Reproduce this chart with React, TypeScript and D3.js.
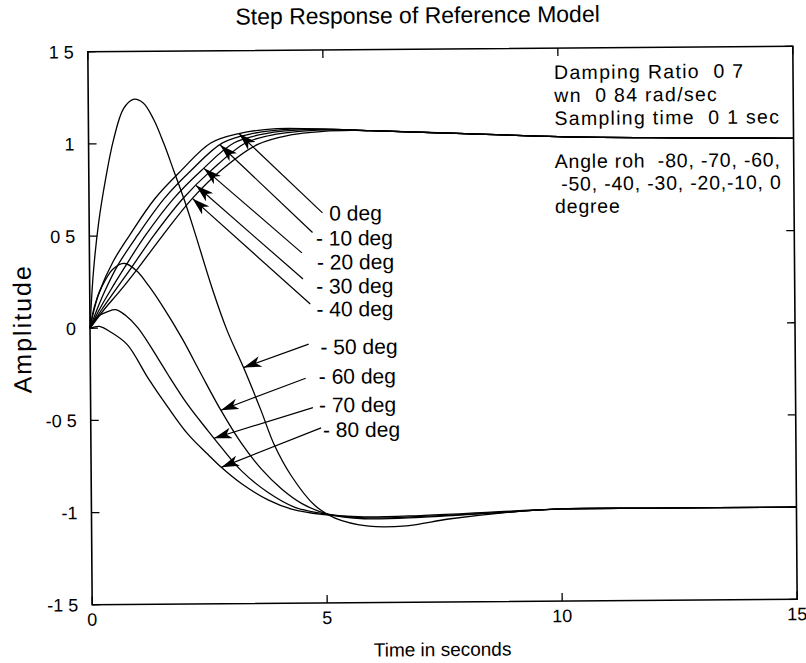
import React from "react";
import * as d3 from "d3";

// step responses, [time (s), amplitude]
const deg0 = [[0, 0], [0.1, 0.11], [0.21, 0.2], [0.5, 0.36], [0.85, 0.5], [1.4, 0.7], [1.96, 0.85], [2.6, 1.0], [3.2, 1.05], [4, 1.075], [5, 1.07], [6, 1.06], [8, 1.04], [10, 1.02], [12, 1.01], [15, 1.0]];
const deg10 = [[0, 0], [0.15, 0.1], [0.32, 0.2], [0.6, 0.34], [1.02, 0.5], [1.6, 0.7], [2.17, 0.85], [2.85, 1.0], [3.5, 1.05], [4.3, 1.072], [5, 1.07], [6, 1.06], [8, 1.04], [10, 1.02], [12, 1.01], [15, 1.0]];
const deg20 = [[0, 0], [0.2, 0.1], [0.43, 0.2], [0.75, 0.33], [1.19, 0.5], [1.8, 0.7], [2.39, 0.85], [3.1, 1.0], [3.8, 1.05], [4.6, 1.068], [5.2, 1.068], [6, 1.06], [8, 1.04], [10, 1.02], [12, 1.01], [15, 1.0]];
const deg30 = [[0, 0], [0.25, 0.1], [0.53, 0.2], [0.9, 0.33], [1.37, 0.5], [2.0, 0.7], [2.6, 0.85], [3.35, 1.0], [4.0, 1.045], [4.8, 1.064], [5.4, 1.065], [6, 1.06], [8, 1.04], [10, 1.02], [12, 1.01], [15, 1.0]];
const deg40 = [[0, 0], [0.3, 0.1], [0.64, 0.2], [1.05, 0.33], [1.56, 0.5], [2.2, 0.7], [2.81, 0.85], [3.6, 0.99], [4.3, 1.04], [5.0, 1.058], [5.6, 1.062], [6, 1.06], [8, 1.04], [10, 1.02], [12, 1.01], [15, 1.0]];
const deg50 = [[0, 0], [0.08, 0.3], [0.2, 0.57], [0.35, 0.8], [0.53, 1.02], [0.75, 1.19], [0.96, 1.24], [1.17, 1.22], [1.39, 1.13], [1.6, 1.0], [1.81, 0.85], [2.03, 0.69], [2.24, 0.52], [2.62, 0.2], [2.92, -0.02], [3.26, -0.22], [3.62, -0.45], [3.9, -0.64], [4.26, -0.81], [4.75, -0.97], [5.18, -1.04], [5.9, -1.085], [6.7, -1.085], [7.6, -1.05], [8.7, -1.02], [10, -1.0], [12, -1.0], [15, -1.0]];
const deg60 = [[0, 0], [0.1, 0.12], [0.25, 0.22], [0.5, 0.32], [0.75, 0.35], [1.0, 0.31], [1.25, 0.23], [1.54, 0.12], [1.96, -0.06], [2.35, -0.25], [2.77, -0.45], [3.2, -0.63], [3.62, -0.77], [4.05, -0.88], [4.48, -0.96], [5.05, -1.02], [5.8, -1.045], [7, -1.04], [8.5, -1.02], [10, -1.0], [12, -1.0], [15, -1.0]];
const deg70 = [[0, 0], [0.15, 0.06], [0.38, 0.09], [0.55, 0.1], [0.75, 0.07], [1.02, 0.0], [1.45, -0.17], [1.64, -0.25], [2.07, -0.42], [2.49, -0.56], [2.77, -0.65], [3.2, -0.78], [3.77, -0.9], [4.33, -0.98], [5.05, -1.02], [5.8, -1.04], [7, -1.035], [8.5, -1.02], [10, -1.0], [12, -1.0], [15, -1.0]];
const deg80 = [[0, 0], [0.2, 0.01], [0.43, -0.02], [0.79, -0.09], [1.22, -0.27], [1.64, -0.43], [2.07, -0.58], [2.49, -0.69], [2.77, -0.76], [3.2, -0.85], [3.77, -0.94], [4.26, -0.99], [4.9, -1.02], [5.8, -1.035], [7, -1.03], [8.5, -1.015], [10, -1.0], [12, -1.0], [15, -1.0]];

const series = [deg0, deg10, deg20, deg30, deg40, deg50, deg60, deg70, deg80];

// arrow labels: text, text start [t, amp], leader start [t, amp], time of the arrow tip on its curve
const labelTexts = ["0 deg", "- 10 deg", "- 20 deg", "- 30 deg", "- 40 deg", "- 50 deg", "- 60 deg", "- 70 deg", "- 80 deg"];
const labelPos = [[5.11, 0.615], [4.82, 0.48], [4.84, 0.35], [4.82, 0.22], [4.82, 0.095], [4.9, -0.11], [4.86, -0.27], [4.86, -0.425], [4.94, -0.56]];
const leaderStart = [[4.965, 0.616], [4.75, 0.51], [4.52, 0.4], [4.54, 0.258], [4.69, 0.122], [4.65, -0.095], [4.58, -0.28], [4.73, -0.44], [4.9, -0.55]];
const tipTimes = [3.2, 2.8, 2.45, 2.28, 2.2, 3.26, 2.77, 2.62, 2.77];

const xTicks = [0, 5, 10, 15];
const xTickLabels = ["0", "5", "10", "15"];
const yTicks = [-1.5, -1, -0.5, 0, 0.5, 1, 1.5];
const yTickLabels = ["-1 5", "-1", "-0 5", "0", "0 5", "1", "1 5"];

const infoLines = ["Damping Ratio  0 7", "wn  0 84 rad/sec", "Sampling time  0 1 sec"];
const angleLines = ["Angle roh  -80, -70, -60,", " -50, -40, -30, -20,-10, 0", "degree"];

const W = 806;
const H = 663;
const margin = { top: 49, right: 11, bottom: 61, left: 90 };
const font = "'Liberation Sans', Arial, sans-serif";

function ampAt(data, t) {
  const i = d3.bisector((d) => d[0]).right(data, t);
  const a = data[Math.max(0, i - 1)];
  const b = data[Math.min(data.length - 1, i)];
  if (a === b) return a[1];
  return a[1] + ((b[1] - a[1]) * (t - a[0])) / (b[0] - a[0]);
}

export default function App() {
  const x = d3.scaleLinear().domain([0, 15]).range([margin.left, W - margin.right]);
  const y = d3.scaleLinear().domain([-1.5, 1.5]).range([H - margin.bottom, margin.top]);

  const line = d3
    .line()
    .x((d) => x(d[0]))
    .y((d) => y(d[1]))
    .curve(d3.curveCatmullRom.alpha(0.5));

  const x0 = x.range()[0];
  const x1 = x.range()[1];
  const yTop = y.range()[1];
  const yBot = y.range()[0];
  const tick = 8;

  return (
    <svg width={W} height={H} style={{ position: "absolute", left: 0, top: 0, background: "#fff" }} fontFamily={font}>
      <defs>
        <marker id="arrow" viewBox="0 0 18 11" refX="18" refY="5.5" markerWidth="18" markerHeight="11" markerUnits="userSpaceOnUse" orient="auto">
          <path d="M0,0 L18,5.5 L0,11 L5,5.5 z" fill="#000" />
        </marker>
      </defs>

      {/* the scanned page sits slightly rotated */}
      <g transform={`rotate(-0.45, ${(x0 + x1) / 2}, ${(yTop + yBot) / 2})`}>
        <text x={420} y={23} textAnchor="middle" fontSize={23}>Step Response of Reference Model</text>

        {series.map((s, i) => (
          <path key={i} d={line(s)} fill="none" stroke="#000" strokeWidth={1.3} />
        ))}

        <rect x={x0} y={yTop} width={x1 - x0} height={yBot - yTop} fill="none" stroke="#000" strokeWidth={1.6} />

        {yTicks.map((v, i) => (
          <g key={"y" + i}>
            <line x1={x0} x2={x0 + tick} y1={y(v)} y2={y(v)} stroke="#000" strokeWidth={1.3} />
            <line x1={x1} x2={x1 - tick} y1={y(v)} y2={y(v)} stroke="#000" strokeWidth={1.3} />
            <text x={x0 - 14} y={y(v)} dy="0.36em" textAnchor="end" fontSize={18}>{yTickLabels[i]}</text>
          </g>
        ))}
        {xTicks.map((v, i) => (
          <g key={"x" + i}>
            <line x1={x(v)} x2={x(v)} y1={yBot} y2={yBot - tick} stroke="#000" strokeWidth={1.3} />
            <line x1={x(v)} x2={x(v)} y1={yTop} y2={yTop + tick} stroke="#000" strokeWidth={1.3} />
            <text x={x(v)} y={yBot + 21} textAnchor="middle" fontSize={18}>{xTickLabels[i]}</text>
          </g>
        ))}

        <text x={440} y={656} textAnchor="middle" fontSize={19}>Time in seconds</text>
        <text transform={`translate(31,${y(0)}) rotate(-90)`} textAnchor="middle" fontSize={25} letterSpacing={2}>Amplitude</text>

        {labelTexts.map((txt, i) => {
          const [ts, as] = leaderStart[i];
          const [tp, ap] = labelPos[i];
          const tipT = tipTimes[i];
          const tipA = ampAt(series[i], tipT);
          return (
            <g key={"l" + i}>
              <line x1={x(ts)} y1={y(as)} x2={x(tipT)} y2={y(tipA)} stroke="#000" strokeWidth={1.2} markerEnd="url(#arrow)" />
              <text x={x(tp)} y={y(ap)} dy="0.36em" fontSize={21} style={{ whiteSpace: "pre" }}>{txt}</text>
            </g>
          );
        })}

        {infoLines.map((txt, i) => (
          <text key={"i" + i} x={556} y={80 + i * 23} fontSize={19.5} letterSpacing={1.3} style={{ whiteSpace: "pre" }}>{txt}</text>
        ))}
        {angleLines.map((txt, i) => (
          <text key={"a" + i} x={556} y={169 + i * 22.5} fontSize={19.5} letterSpacing={0.8} style={{ whiteSpace: "pre" }}>{txt}</text>
        ))}
      </g>
    </svg>
  );
}
